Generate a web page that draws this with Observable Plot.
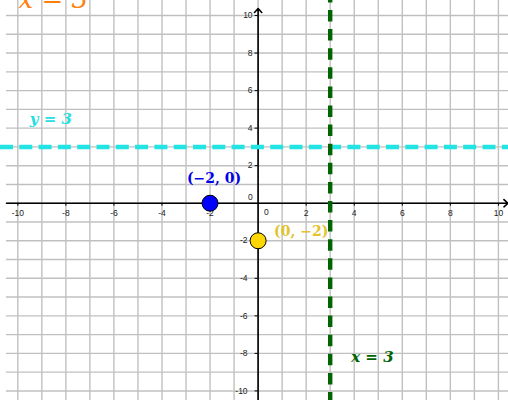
<!DOCTYPE html>
<html><head><meta charset="utf-8">
<script src="https://cdn.jsdelivr.net/npm/d3@7"></script>
<script src="https://cdn.jsdelivr.net/npm/@observablehq/plot@0.6"></script>
<style>html,body{margin:0;padding:0;background:#fff} #chart svg{display:block}</style>
</head><body><div id="chart"></div>
<script>
// --- data ---
const gridX = [-10,-9,-8,-7,-6,-5,-4,-3,-2,-1,0,1,2,3,4,5,6,7,8,9,10];
const gridY = [-10,-9,-8,-7,-6,-5,-4,-3,-2,-1,0,1,2,3,4,5,6,7,8,9,10];
const tickValues = [-10,-8,-6,-4,-2,2,4,6,8,10];
const xDomain = [-10.72, 10.42];
const yDomain = [-10.51, 10.8];
const gridStartX = -10.47;
const axes = [
  {x1: -10.47, y1: 0, x2: 10.395, y2: 0},
  {x1: 0, y1: -10.51, x2: 0, y2: 10.37}
];
const pointNames = ["(−2, 0)", "(0, −2)"];
const pointX = [-2, 0];
const pointY = [0, -2];
const pointColors = ["#0000ff", "#ffd700"];
const labelColors = ["#0000e6", "#e3c22a"];
const lineYValue = 3;
const lineXValue = 3;
const lineYLabel = "y = 3";
const lineXLabel = "x = 3";
const lineXLabelY = -8.2;
const lineYLabelX = -9.5;
const titleText = "x = 3";

const points = pointNames.map((name, i) => ({name, x: pointX[i], y: pointY[i], fill: pointColors[i], labelColor: labelColors[i]}));

const chart = Plot.plot({
  width: 508,
  height: 400,
  margin: 0,
  x: {domain: xDomain, axis: null},
  y: {domain: yDomain, axis: null},
  color: {type: "identity"},
  style: {fontFamily: "'Liberation Sans', Arial, sans-serif", fontSize: "8.5px", background: "white"},
  marks: [
    // grid
    Plot.ruleX(gridX, {x: d => d, stroke: "#c0c0c0", strokeWidth: 1.4}),
    Plot.ruleY(gridY, {y: d => d, x1: () => gridStartX, x2: () => xDomain[1], stroke: "#c0c0c0", strokeWidth: 1.4}),
    // axes with arrows
    Plot.arrow(axes, {x1: "x1", y1: "y1", x2: "x2", y2: "y2", stroke: "#000", strokeWidth: 1.6, headLength: 5, headAngle: 85}),
    // ticks
    Plot.ruleX(tickValues, {x: d => d, y1: () => 0, y2: () => 0, insetBottom: -3, stroke: "#000", strokeWidth: 1}),
    Plot.ruleY(tickValues, {y: d => d, x1: () => 0, x2: () => 0, insetLeft: -3, stroke: "#000", strokeWidth: 1}),
    // tick labels
    Plot.text(tickValues, {x: d => d, y: () => 0, text: d => String(d), dy: 10, fill: "#222"}),
    Plot.text(tickValues.filter(d => d > 0), {x: () => 0, y: d => d, text: d => String(d), textAnchor: "end", dx: -5.5, fill: "#222"}),
    Plot.text(tickValues.filter(d => d < 0), {x: () => 0, y: d => d, text: d => String(d), textAnchor: "end", dx: -10.5, fill: "#222"}),
    Plot.text([0], {x: d => d, y: d => d, text: d => String(d), dx: -7.7, dy: -6, fill: "#222"}),
    Plot.text([0], {x: d => d, y: d => d, text: d => String(d), dx: 8.3, dy: 9, fill: "#222"}),
    // dashed lines
    Plot.ruleY([lineYValue], {y: d => d, stroke: "#22e4e4", strokeWidth: 4.5, strokeDasharray: "13,6.3"}),
    Plot.ruleX([lineXValue], {x: d => d, stroke: "#006400", strokeWidth: 4.4, strokeDasharray: "11.5,7.6", strokeDashoffset: 9.1}),
    // line labels
    Plot.text([lineYLabel], {x: () => lineYLabelX, y: () => lineYValue, text: d => d, textAnchor: "start", dy: -28, fill: "#26dede", fontFamily: "'DejaVu Serif', serif", fontWeight: "bold", fontStyle: "italic", fontSize: 15}),
    Plot.text([lineXLabel], {x: () => lineXValue, y: () => lineXLabelY, text: d => d, textAnchor: "start", dx: 21, fill: "#006400", fontFamily: "'DejaVu Serif', serif", fontWeight: "bold", fontStyle: "italic", fontSize: 15}),
    // points
    Plot.dot(points, {x: "x", y: "y", r: 8, fill: "fill", stroke: "#000", strokeWidth: 1}),
    Plot.text(points.filter(d => d.x < 0), {x: "x", y: "y", text: "name", fill: "labelColor", textAnchor: "middle", dx: 4, dy: -25, fontFamily: "'DejaVu Serif', serif", fontWeight: "bold", fontSize: 14}),
    Plot.text(points.filter(d => d.x >= 0), {x: "x", y: "y", text: "name", fill: "labelColor", textAnchor: "start", dx: 16, dy: -9, fontFamily: "'DejaVu Serif', serif", fontWeight: "bold", fontSize: 14}),
    // title (cut off at top)
    Plot.text([titleText], {frameAnchor: "top-left", text: d => d, textAnchor: "start", lineAnchor: "bottom", dx: 18, dy: 7, fill: "#ff7f0e", fontFamily: "'DejaVu Serif', serif", fontStyle: "italic", fontSize: 26})
  ]
});
document.getElementById("chart").appendChild(chart);
</script>
</body></html>
